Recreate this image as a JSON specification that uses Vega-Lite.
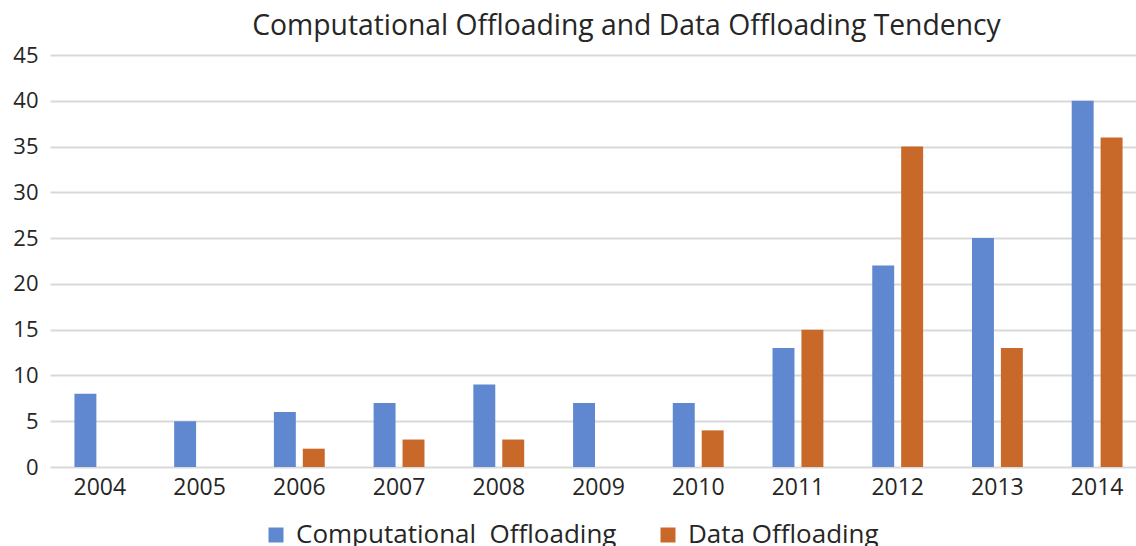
{
  "$schema": "https://vega.github.io/schema/vega-lite/v6.json",
  "autosize": {"type": "none"},
  "padding": {"left": 50, "top": 55, "right": 0, "bottom": 79},
  "width": 1097,
  "height": 412,
  "background": "white",
  "title": {
    "text": "Computational Offloading and Data Offloading Tendency",
    "font": "Open Sans",
    "fontSize": 28.3,
    "fontWeight": "normal",
    "color": "#262626",
    "anchor": "middle",
    "dx": 28,
    "offset": 3
  },
  "data": {
    "values": [
      {"year": "2004", "type": "Computational\u00a0 Offloading", "count": 8},
      {"year": "2005", "type": "Computational\u00a0 Offloading", "count": 5},
      {"year": "2006", "type": "Computational\u00a0 Offloading", "count": 6},
      {"year": "2006", "type": "Data Offloading", "count": 2},
      {"year": "2007", "type": "Computational\u00a0 Offloading", "count": 7},
      {"year": "2007", "type": "Data Offloading", "count": 3},
      {"year": "2008", "type": "Computational\u00a0 Offloading", "count": 9},
      {"year": "2008", "type": "Data Offloading", "count": 3},
      {"year": "2009", "type": "Computational\u00a0 Offloading", "count": 7},
      {"year": "2010", "type": "Computational\u00a0 Offloading", "count": 7},
      {"year": "2010", "type": "Data Offloading", "count": 4},
      {"year": "2011", "type": "Computational\u00a0 Offloading", "count": 13},
      {"year": "2011", "type": "Data Offloading", "count": 15},
      {"year": "2012", "type": "Computational\u00a0 Offloading", "count": 22},
      {"year": "2012", "type": "Data Offloading", "count": 35},
      {"year": "2013", "type": "Computational\u00a0 Offloading", "count": 25},
      {"year": "2013", "type": "Data Offloading", "count": 13},
      {"year": "2014", "type": "Computational\u00a0 Offloading", "count": 40},
      {"year": "2014", "type": "Data Offloading", "count": 36}
    ]
  },
  "mark": {"type": "bar"},
  "encoding": {
    "x": {
      "field": "year",
      "type": "nominal",
      "scale": {"paddingInner": 0.49, "paddingOuter": 0.245},
      "axis": {
        "title": null,
        "labelAngle": 0,
        "labelFont": "Open Sans",
        "labelFontSize": 23,
        "labelColor": "#262626",
        "labelPadding": 9,
        "ticks": false,
        "domain": false,
        "grid": false
      }
    },
    "xOffset": {
      "field": "type",
      "type": "nominal",
      "sort": ["Computational\u00a0 Offloading", "Data Offloading"],
      "scale": {"paddingInner": 0.241, "paddingOuter": 0}
    },
    "y": {
      "field": "count",
      "type": "quantitative",
      "scale": {"domain": [0, 45], "nice": false},
      "axis": {
        "title": null,
        "values": [0, 5, 10, 15, 20, 25, 30, 35, 40, 45],
        "labelFont": "Open Sans",
        "labelFontSize": 22,
        "labelColor": "#262626",
        "labelPadding": 12,
        "ticks": false,
        "domain": false,
        "grid": true,
        "gridColor": "#d9d9d9",
        "gridWidth": 2
      }
    },
    "color": {
      "field": "type",
      "type": "nominal",
      "sort": ["Computational\u00a0 Offloading", "Data Offloading"],
      "scale": {
        "domain": ["Computational\u00a0 Offloading", "Data Offloading"],
        "range": ["#6088d0", "#c8692a"]
      },
      "legend": {
        "title": null,
        "orient": "none",
        "direction": "horizontal",
        "legendX": 213,
        "legendY": 467,
        "symbolType": "square",
        "symbolSize": 225,
        "symbolStrokeWidth": 0,
        "labelFont": "Open Sans",
        "labelFontSize": 26,
        "labelColor": "#262626",
        "labelOffset": 7,
        "columnPadding": 38,
        "labelLimit": 500
      }
    }
  },
  "config": {"view": {"stroke": null}}
}
